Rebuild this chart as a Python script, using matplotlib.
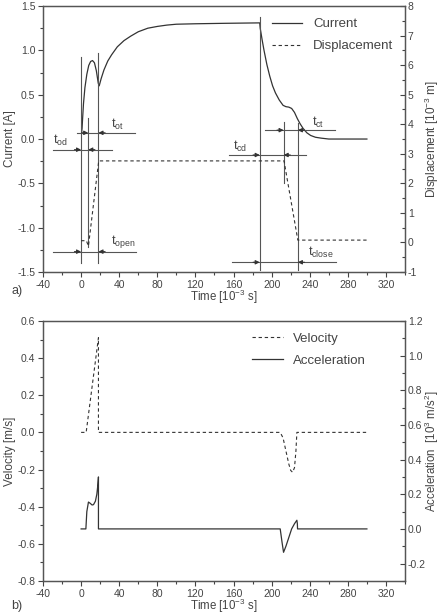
import matplotlib.pyplot as plt
from matplotlib.ticker import MultipleLocator

plt.rcParams['font.family'] = ['Liberation Sans', 'DejaVu Sans']
plt.rcParams['mathtext.fontset'] = 'custom'
plt.rcParams['mathtext.rm'] = 'Liberation Sans'
plt.rcParams['mathtext.it'] = 'Liberation Sans:italic'
plt.rcParams['axes.unicode_minus'] = False

# ---- data (time in ms) ----
cur_t = [0.5, 1.0, 1.5, 2.5, 4, 6, 8, 10, 12, 14, 16, 18, 19, 21, 24, 28, 32, 38, 45,
         52, 60, 70, 80, 90, 100, 120, 150, 187.5,
         188, 190, 192, 195, 198, 201, 204, 208, 212, 215, 218, 221, 224, 227, 230,
         233, 237, 241, 246, 252, 260, 280, 300]
cur_a = [0.07, 0.12, 0.22, 0.40, 0.58, 0.73, 0.83, 0.875, 0.885, 0.86, 0.77, 0.63, 0.60,
         0.68, 0.78, 0.88, 0.95, 1.04, 1.11, 1.16, 1.21, 1.25, 1.27, 1.285, 1.295, 1.30,
         1.305, 1.31,
         1.25, 1.12, 1.0, 0.84, 0.71, 0.60, 0.52, 0.44, 0.38, 0.365, 0.36, 0.345, 0.30,
         0.23, 0.17, 0.12, 0.07, 0.04, 0.02, 0.01, 0.0, 0.0, 0.0]

disp_t = [0, 5.5, 7.7, 18.5, 213, 227.5, 300]
disp_mm = [0.06, 0.06, -0.12, 2.76, 2.76, 0.08, 0.08]

vel_t = [0, 5.3, 18.2, 18.2, 209, 212, 215, 218, 220, 222, 224, 225.5, 226.5, 300]
vel = [0.0, 0.0, 0.51, 0.0, 0.0, -0.03, -0.10, -0.17, -0.205, -0.215, -0.19, -0.10, 0.0, 0.0]

acc_t = [0, 5.0, 6.0, 7.7, 9.5, 11.5, 13.0, 15.0, 16.5, 17.5, 18.2, 18.2,
         209, 211, 212.5, 215, 218, 221, 224, 226.5, 227, 227.2, 300]
acc = [0.0, 0.0, 0.10, 0.155, 0.148, 0.138, 0.14, 0.16, 0.2, 0.25, 0.30, 0.0,
       0.0, -0.08, -0.135, -0.10, -0.05, 0.0, 0.03, 0.05, 0.03, 0.0, 0.0]

# opening / closing event times
t_open_ev = [0, 7.5, 18.2]
t_close_ev = [187.5, 212.6, 227.5]

ink = '#333333'
guide = '#555555'
txt = '#444444'

fig = plt.figure(figsize=(4.42, 6.16), dpi=100)
ax1 = fig.add_axes([0.0973, 0.5584, 0.819, 0.4318])
ax2 = fig.add_axes([0.0973, 0.0570, 0.819, 0.4219])


def style(ax, axr):
    ax.set_xlim(-40, 340)
    ax.xaxis.set_major_locator(MultipleLocator(40))
    ax.xaxis.set_minor_locator(MultipleLocator(20))
    ax.tick_params(axis='both', which='both', direction='out', labelsize=7.5,
                   colors=txt, top=False, right=False, pad=2)
    ax.tick_params(which='major', length=3.5, width=0.8)
    ax.tick_params(which='minor', length=2, width=0.8)
    axr.tick_params(axis='y', which='both', direction='in', labelsize=7.5, colors=txt, pad=2)
    axr.tick_params(which='major', length=3.5, width=0.8)
    axr.tick_params(which='minor', length=2, width=0.8)
    for a in (ax, axr):
        for s in a.spines.values():
            s.set_color(guide)
            s.set_linewidth(0.9)
    ax.set_xlabel('Time [10$^{-3}$ s]', fontsize=8.3, color=txt, labelpad=-1)


# ---------------- a) ----------------
ax1r = ax1.twinx()
l1, = ax1.plot(cur_t, cur_a, color=ink, lw=0.9, label='Current')
l2, = ax1r.plot(disp_t, disp_mm, color=ink, lw=0.8, ls=(0, (3, 2.5)), label='Displacement')
ax1.set_ylim(-1.5, 1.5)
ax1r.set_ylim(-1, 8)
ax1.yaxis.set_major_locator(MultipleLocator(0.5))
ax1.yaxis.set_minor_locator(MultipleLocator(0.25))
ax1r.yaxis.set_major_locator(MultipleLocator(1))
ax1r.yaxis.set_minor_locator(MultipleLocator(0.5))
style(ax1, ax1r)
ax1.set_ylabel('Current [A]', fontsize=8.5, color=txt, labelpad=1)
ax1r.set_ylabel('Displacement [10$^{-3}$ m]', fontsize=8.5, color=txt)
ax1r.yaxis.set_label_coords(1.05, 0.5)
ax1.legend([l1, l2], ['Current', 'Displacement'], loc='upper right', frameon=False,
           fontsize=9.5, handlelength=2.3, labelspacing=0.75,
           bbox_to_anchor=(1.0, 1.0), labelcolor=txt)

# vertical guide lines (x, ymin, ymax in current units)
vlines = [(t_open_ev[0], -1.40, 0.93), (t_open_ev[1], -1.22, 0.24), (t_open_ev[2], -1.40, 0.97),
          (t_close_ev[0], -1.48, 1.38), (t_close_ev[1], -0.50, 0.19), (t_close_ev[2], -1.48, 0.18)]
for x, y0, y1 in vlines:
    ax1.plot([x, x], [y0, y1], color=guide, lw=0.8)

# dimension lines: (y, x from, x to, start event, end event, label, label x, label y)
dims = [
    (-0.12, -30, 32, t_open_ev[0], t_open_ev[1], r'$\mathrm{t_{od}}$', -22, -0.02),
    (0.07, -4, 57, t_open_ev[1], t_open_ev[2], r'$\mathrm{t_{ot}}$', 38, 0.17),
    (-1.27, -30, 58, t_open_ev[0], t_open_ev[2], r'$\mathrm{t_{open}}$', 44, -1.16),
    (-0.18, 155, 236, t_close_ev[0], t_close_ev[1], r'$\mathrm{t_{cd}}$', 167, -0.08),
    (0.10, 193, 266, t_close_ev[1], t_close_ev[2], r'$\mathrm{t_{ct}}$', 249, 0.19),
    (-1.39, 158, 268, t_close_ev[0], t_close_ev[2], r'$\mathrm{t_{close}}$', 252, -1.28),
]
ap = dict(arrowstyle='-|>', color=ink, lw=0.8, mutation_scale=6, shrinkA=0, shrinkB=0)
for y, x0, x1, ta, tb, lab, lx, ly in dims:
    ax1.plot([x0, x1], [y, y], color=guide, lw=0.8)
    ax1.annotate('', xy=(ta, y), xytext=(ta - 7, y), arrowprops=ap)
    ax1.annotate('', xy=(tb, y), xytext=(tb + 7, y), arrowprops=ap)
    ax1.text(lx, ly, lab, fontsize=9, color=txt, ha='center', va='center')

fig.text(0.025, 0.522, 'a)', fontsize=9, color=txt)

# ---------------- b) ----------------
ax2r = ax2.twinx()
l3, = ax2.plot(vel_t, vel, color=ink, lw=0.8, ls=(0, (3, 2.5)), label='Velocity')
l4, = ax2r.plot(acc_t, acc, color=ink, lw=0.9, label='Acceleration')
ax2.set_ylim(-0.8, 0.6)
ax2.yaxis.set_major_locator(MultipleLocator(0.2))
ax2.yaxis.set_minor_locator(MultipleLocator(0.1))
ax2r.yaxis.set_minor_locator(MultipleLocator(0.1))
ax2r.set_yticks([-0.2, 0.0, 0.2, 0.4, 0.6, 0.8, 1.0, 1.2])
ax2r.set_ylim(-0.3, 1.2)
style(ax2, ax2r)
ax2.set_ylabel('Velocity [m/s]', fontsize=8.5, color=txt, labelpad=1)
ax2r.set_ylabel('Acceleration  [10$^3$ m/s$^2$]', fontsize=8.3, color=txt)
ax2r.yaxis.set_label_coords(1.05, 0.5)
ax2.legend([l3, l4], ['Velocity', 'Acceleration'], loc='upper right', frameon=False,
           fontsize=9.5, handlelength=2.3, labelspacing=0.7,
           bbox_to_anchor=(0.925, 1.0), labelcolor=txt)

fig.text(0.025, 0.012, 'b)', fontsize=9, color=txt)

fig.savefig('out.png', dpi=100)
